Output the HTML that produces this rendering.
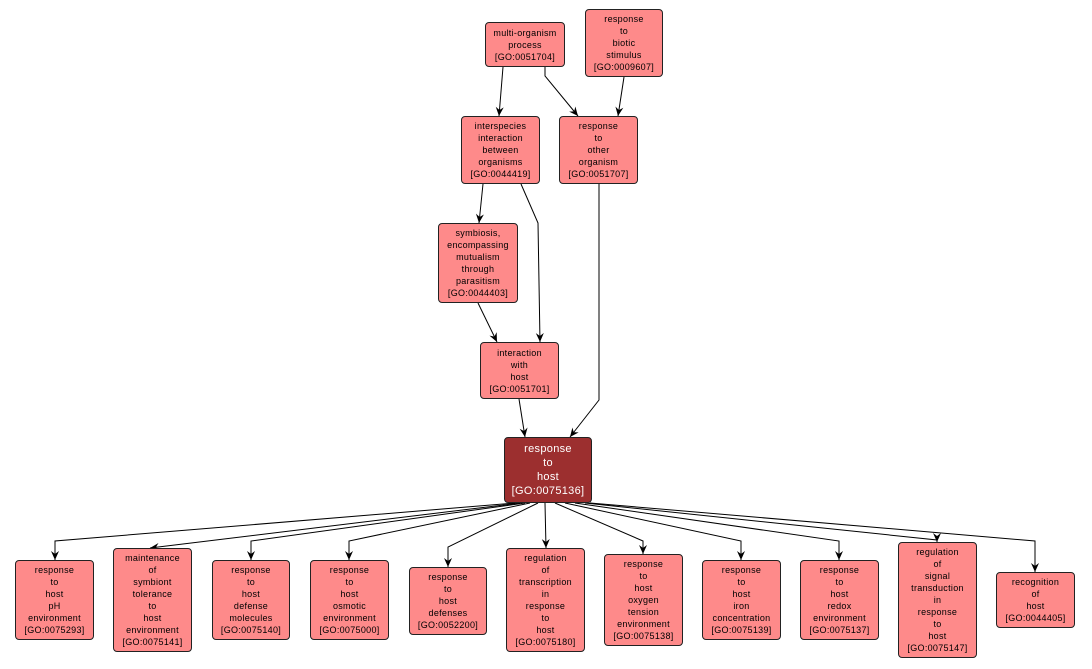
<!DOCTYPE html>
<html><head><meta charset="utf-8"><style>
body{margin:0;width:1092px;height:669px;background:#fff;position:relative;overflow:hidden;font-family:"Liberation Sans",sans-serif}
.n{position:absolute;box-sizing:border-box;background:#fe8a8a;border:1px solid #222;border-radius:4px;display:flex;align-items:center;justify-content:center;text-align:center;font-size:9px;line-height:12px;color:#000;letter-spacing:0.3px}
.d{background:#9c2f2f;color:#fff;font-size:11px;line-height:14px}
svg{position:absolute;left:0;top:0}
</style></head><body>
<svg width="1092" height="669">
<defs><marker id="a" markerWidth="10" markerHeight="10" refX="9" refY="5" orient="auto" markerUnits="userSpaceOnUse"><path d="M0,1 L9,5 L0,9 L3,5 Z" fill="#000"/></marker></defs>
<g stroke="#000" stroke-width="1" fill="none" marker-end="url(#a)">
<polyline points="503,67 499,116"/>
<polyline points="545,67 545,76 578,116"/>
<polyline points="624,77 618,116"/>
<polyline points="483,184 479,223"/>
<polyline points="521,184 538,223 540,342"/>
<polyline points="478,303 497,342"/>
<polyline points="599,184 599,400 570,437"/>
<polyline points="519,399 525,437"/>
<polyline points="515,503 55,541 55,560"/>
<polyline points="520,503 150,548"/>
<polyline points="525,503 251,541 251,560"/>
<polyline points="530,503 349,541 349,560"/>
<polyline points="538,503 448,547 448,567"/>
<polyline points="545,503 546,548"/>
<polyline points="555,503 643,541 643,554"/>
<polyline points="565,503 741,541 741,560"/>
<polyline points="575,503 839,541 839,560"/>
<polyline points="585,503 937,540 937,542"/>
<polyline points="590,503 1035,541 1035,572"/>
</g></svg>
<div class="n" style="left:485px;top:22px;width:80px;height:45px">multi-organism<br>process<br>[GO:0051704]</div>
<div class="n" style="left:585px;top:9px;width:78px;height:68px">response<br>to<br>biotic<br>stimulus<br>[GO:0009607]</div>
<div class="n" style="left:461px;top:116px;width:79px;height:68px">interspecies<br>interaction<br>between<br>organisms<br>[GO:0044419]</div>
<div class="n" style="left:559px;top:116px;width:79px;height:68px">response<br>to<br>other<br>organism<br>[GO:0051707]</div>
<div class="n" style="left:438px;top:223px;width:80px;height:80px">symbiosis,<br>encompassing<br>mutualism<br>through<br>parasitism<br>[GO:0044403]</div>
<div class="n" style="left:480px;top:342px;width:79px;height:57px">interaction<br>with<br>host<br>[GO:0051701]</div>
<div class="n d" style="left:504px;top:437px;width:88px;height:66px">response<br>to<br>host<br>[GO:0075136]</div>
<div class="n" style="left:15px;top:560px;width:79px;height:80px">response<br>to<br>host<br>pH<br>environment<br>[GO:0075293]</div>
<div class="n" style="left:113px;top:548px;width:79px;height:104px">maintenance<br>of<br>symbiont<br>tolerance<br>to<br>host<br>environment<br>[GO:0075141]</div>
<div class="n" style="left:212px;top:560px;width:78px;height:80px">response<br>to<br>host<br>defense<br>molecules<br>[GO:0075140]</div>
<div class="n" style="left:310px;top:560px;width:79px;height:80px">response<br>to<br>host<br>osmotic<br>environment<br>[GO:0075000]</div>
<div class="n" style="left:409px;top:567px;width:78px;height:68px">response<br>to<br>host<br>defenses<br>[GO:0052200]</div>
<div class="n" style="left:506px;top:548px;width:79px;height:104px">regulation<br>of<br>transcription<br>in<br>response<br>to<br>host<br>[GO:0075180]</div>
<div class="n" style="left:604px;top:554px;width:79px;height:92px">response<br>to<br>host<br>oxygen<br>tension<br>environment<br>[GO:0075138]</div>
<div class="n" style="left:702px;top:560px;width:79px;height:80px">response<br>to<br>host<br>iron<br>concentration<br>[GO:0075139]</div>
<div class="n" style="left:800px;top:560px;width:79px;height:80px">response<br>to<br>host<br>redox<br>environment<br>[GO:0075137]</div>
<div class="n" style="left:898px;top:542px;width:79px;height:116px">regulation<br>of<br>signal<br>transduction<br>in<br>response<br>to<br>host<br>[GO:0075147]</div>
<div class="n" style="left:996px;top:572px;width:79px;height:56px">recognition<br>of<br>host<br>[GO:0044405]</div>
</body></html>
